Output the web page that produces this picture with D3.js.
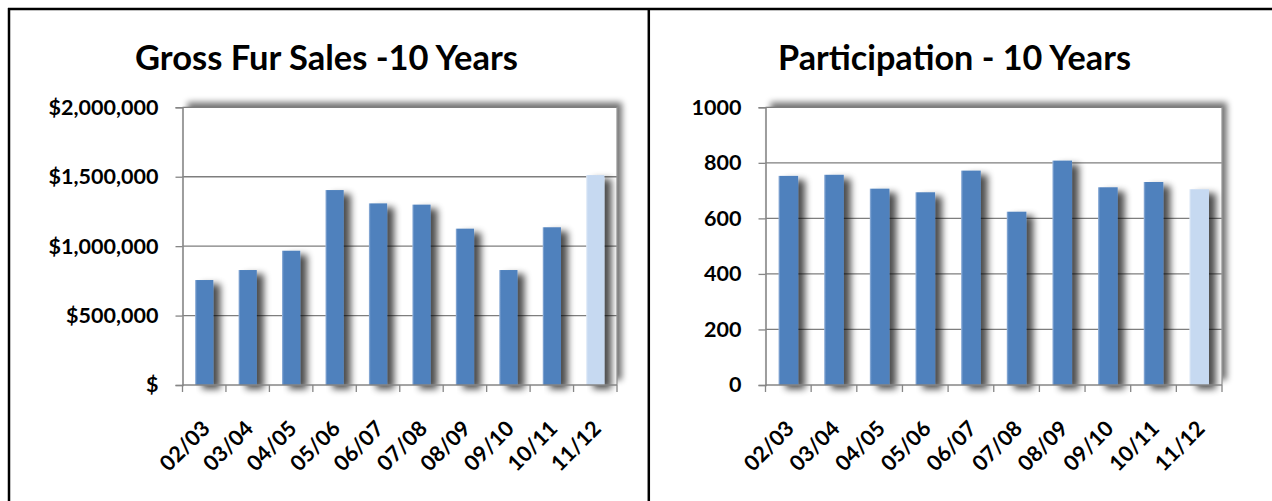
<!DOCTYPE html>
<html>
<head>
<meta charset="utf-8">
<script src="https://cdn.jsdelivr.net/npm/d3@7"></script>
<style>
  body { margin: 0; background: #fff; }
  svg { display: block; }
  text { font-family: Lato, "Open Sans", "DejaVu Sans", sans-serif; font-weight: 700; fill: #000; }
</style>
</head>
<body>
<svg id="chart" width="1272" height="501"></svg>
<script>
// Seasons shown on both charts
const seasons = ["02/03", "03/04", "04/05", "05/06", "06/07", "07/08", "08/09", "09/10", "10/11", "11/12"];
// Gross fur sales per season (dollars)
const grossSales = [756000, 828000, 967000, 1404000, 1308000, 1299000, 1126000, 828000, 1136000, 1512000];
// Number of participants per season
const participation = [753, 757, 707, 694, 772, 624, 808, 712, 731, 705];
// Value-axis ticks
const salesTicks = [0, 500000, 1000000, 1500000, 2000000];
const participationTicks = [0, 200, 400, 600, 800, 1000];

const svg = d3.select("#chart");
const defs = svg.append("defs");

// Soft drop shadow used behind the bars
const bf = defs.append("filter").attr("id", "barShadow")
  .attr("x", "-30%").attr("y", "-10%").attr("width", "220%").attr("height", "130%");
bf.append("feGaussianBlur").attr("in", "SourceAlpha").attr("stdDeviation", 3.5).attr("result", "b");
bf.append("feOffset").attr("in", "b").attr("dx", 7).attr("dy", 4).attr("result", "o");
bf.append("feComponentTransfer").attr("in", "o").attr("result", "s")
  .append("feFuncA").attr("type", "linear").attr("slope", 0.7);
const bm = bf.append("feMerge");
bm.append("feMergeNode").attr("in", "s");
bm.append("feMergeNode").attr("in", "SourceGraphic");

// Shadow along the top and right of the plot area
const pf = defs.append("filter").attr("id", "plotShadow")
  .attr("x", "-5%").attr("y", "-10%").attr("width", "115%").attr("height", "120%");
pf.append("feGaussianBlur").attr("in", "SourceAlpha").attr("stdDeviation", 3).attr("result", "b");
pf.append("feOffset").attr("in", "b").attr("dx", 5).attr("dy", -5).attr("result", "o");
pf.append("feComponentTransfer").attr("in", "o").attr("result", "s")
  .append("feFuncA").attr("type", "linear").attr("slope", 0.55);
const pm = pf.append("feMerge");
pm.append("feMergeNode").attr("in", "s");
pm.append("feMergeNode").attr("in", "SourceGraphic");

// Bar fills with a light left edge
function barGradient(id, edge, main) {
  const g = defs.append("linearGradient").attr("id", id).attr("x1", 0).attr("x2", 1).attr("y1", 0).attr("y2", 0);
  g.append("stop").attr("offset", "0%").attr("stop-color", edge);
  g.append("stop").attr("offset", "10%").attr("stop-color", main);
  g.append("stop").attr("offset", "100%").attr("stop-color", main);
}
barGradient("barBlue", "#9ab6dc", "#4f81bd");
barGradient("barLight", "#e3ecf8", "#c6d9f1");

// Fit a font size so that a sample string spans a given width
function fitSize(sample, width) {
  const t = svg.append("text").attr("font-size", 100).text(sample);
  const w = t.node().getComputedTextLength();
  t.remove();
  return 100 * width / w;
}
const tickSize = fitSize("$2,000,000", 110);
const titleSizeL = fitSize("Gross Fur Sales -10 Years", 383);
const titleSizeR = fitSize("Participation - 10 Years", 353);

const panels = [
  { title: "Gross Fur Sales -10 Years", titleX: 326.5, titleSize: titleSizeL, values: grossSales,
    ticks: salesTicks, fmt: d => d === 0 ? "$" : "$" + d3.format(",")(d),
    x0: 182.5, x1: 617, labelGap: 24, pad: 0.58 },
  { title: "Participation - 10 Years", titleX: 954.5, titleSize: titleSizeR, values: participation,
    ticks: participationTicks, fmt: d3.format("d"),
    x0: 765.5, x1: 1222, labelGap: 24, pad: 0.57 }
];
const yTop = 107.3, yBottom = 385;

panels.forEach(p => {
  const g = svg.append("g");
  const max = p.ticks[p.ticks.length - 1];
  const x = d3.scaleBand().domain(seasons).range([p.x0, p.x1])
    .paddingInner(p.pad).paddingOuter(p.pad / 2);
  const xb = d3.scaleBand().domain(seasons).range([p.x0, p.x1]).padding(0);
  const y = d3.scaleLinear().domain([0, max]).range([yBottom, yTop]);

  g.append("text").attr("x", p.titleX).attr("y", 70).attr("text-anchor", "middle")
    .attr("font-size", p.titleSize).text(p.title);

  // plot area with its shadow
  g.append("rect").attr("x", p.x0).attr("y", yTop).attr("width", p.x1 - p.x0).attr("height", yBottom - yTop)
    .attr("fill", "#fff").attr("filter", "url(#plotShadow)");

  // gridlines
  g.append("g").selectAll("line").data(p.ticks.filter(t => t > 0)).join("line")
    .attr("x1", p.x0).attr("x2", p.x1).attr("y1", d => y(d)).attr("y2", d => y(d))
    .attr("stroke", "#7e7e7e").attr("stroke-width", 1.3);
  g.append("line").attr("x1", p.x1).attr("x2", p.x1).attr("y1", yTop).attr("y2", yBottom)
    .attr("stroke", "#9a9a9a").attr("stroke-width", 1.3);

  // bars
  g.append("g").selectAll("rect").data(p.values).join("rect")
    .attr("x", (d, i) => x(seasons[i]))
    .attr("y", d => y(d))
    .attr("width", x.bandwidth())
    .attr("height", d => yBottom - y(d))
    .attr("fill", (d, i) => i === seasons.length - 1 ? "url(#barLight)" : "url(#barBlue)")
    .attr("filter", "url(#barShadow)");

  // value axis
  const ya = g.append("g").attr("transform", `translate(${p.x0},0)`)
    .call(d3.axisLeft(y).tickValues(p.ticks).tickFormat(p.fmt).tickSize(7).tickPadding(p.labelGap - 7));
  ya.select(".domain").attr("stroke", "#868686").attr("stroke-width", 1.6);
  ya.selectAll(".tick line").attr("stroke", "#868686").attr("stroke-width", 1.3);
  ya.selectAll(".tick text").attr("font-size", tickSize).attr("font-family", null).attr("fill", "#000");

  // category axis: ticks at band boundaries, rotated labels
  const xa = g.append("g").attr("transform", `translate(0,${yBottom})`);
  xa.append("line").attr("x1", p.x0).attr("x2", p.x1).attr("stroke", "#868686").attr("stroke-width", 1.6);
  xa.selectAll(".bt").data(seasons.concat(["end"])).join("line").attr("class", "bt")
    .attr("x1", (d, i) => i < seasons.length ? xb(d) : p.x1)
    .attr("x2", (d, i) => i < seasons.length ? xb(d) : p.x1)
    .attr("y1", 0).attr("y2", 7).attr("stroke", "#868686").attr("stroke-width", 1.3);
  xa.selectAll("text").data(seasons).join("text")
    .attr("transform", d => `translate(${xb(d) + xb.bandwidth() / 2 + 7},45) rotate(-45)`)
    .attr("text-anchor", "end").attr("font-size", tickSize).text(d => d);
});

// frame lines
const frame = svg.append("g").attr("stroke", "#000").attr("stroke-width", 2.5);
frame.append("line").attr("x1", 8).attr("x2", 1272).attr("y1", 9).attr("y2", 9);
frame.append("line").attr("x1", 9).attr("x2", 9).attr("y1", 8).attr("y2", 501);
frame.append("line").attr("x1", 648.8).attr("x2", 648.8).attr("y1", 8).attr("y2", 501);
</script>
</body>
</html>
